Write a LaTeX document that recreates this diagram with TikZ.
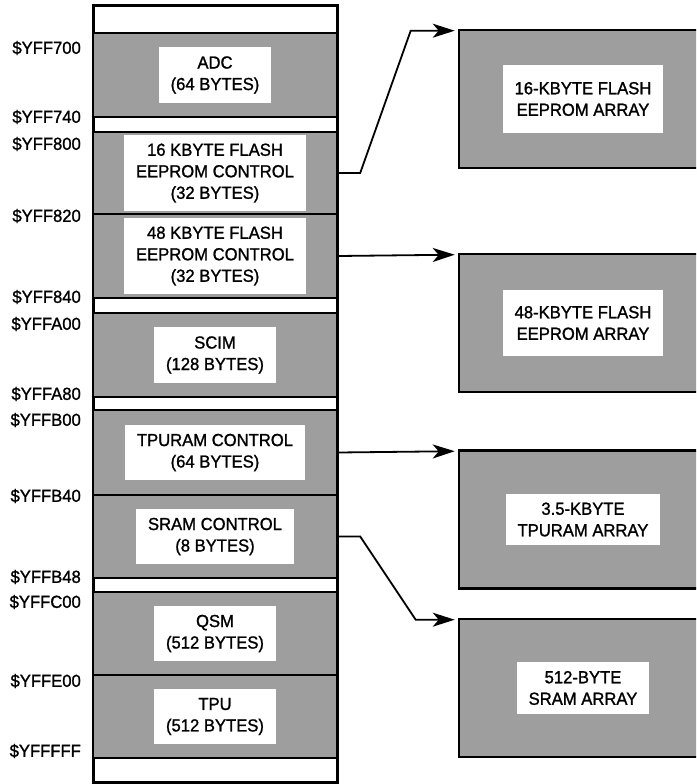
\documentclass[tikz,border=0pt]{standalone}
\usepackage{fontspec}
\setmainfont{Liberation Sans}[FakeStretch=0.95, FakeBold=1.2]
\usetikzlibrary{arrows.meta,positioning}

\begin{document}
\begin{tikzpicture}[
  x=1pt, y=-1pt,
  every node/.style={font=\fontsize{17.5}{21.5}\selectfont},
  memblock/.style={draw, line width=2.4pt, fill=black!38, minimum width=244pt, inner sep=0pt},
  arraybox/.style={draw, line width=2.6pt, fill=black!38, minimum width=248pt, minimum height=138pt, inner sep=0pt},
  tag/.style={fill=white, align=center, inner xsep=12pt, inner ysep=9pt},
  addr/.style={anchor=east, inner sep=0pt},
  arr/.style={line width=1.8pt, -{Stealth[length=22pt,width=14pt,inset=6pt]}}
]
\useasboundingbox (0,0) rectangle (696,784);
\clip (0,0) rectangle (696,784);

% memory map column
\node[draw, line width=3pt, fill=white, minimum width=244pt, minimum height=776pt] (column) at (215,394) {};
\node[memblock, minimum height=84pt] (adc) at (215,75) {};
\node[memblock, minimum height=82pt] (ctrlA) at (215,173) {};
\node[memblock, minimum height=84pt] (ctrlB) at (215,256) {};
\node[memblock, minimum height=84pt] (scim) at (215,355) {};
\node[memblock, minimum height=85pt] (tpuctrl) at (215,452.5) {};
\node[memblock, minimum height=83pt] (sramctrl) at (215,536.5) {};
\node[memblock, minimum height=83pt] (qsm) at (215,633.5) {};
\node[memblock, minimum height=83pt] (tpu) at (215,716.5) {};

\node[tag] (adctag) at (adc) {ADC\\(64 BYTES)};
\node[tag] (ctrlAtag) at (ctrlA) {16 KBYTE FLASH\\EEPROM CONTROL\\(32 BYTES)};
\node[tag] (ctrlBtag) at (ctrlB) {48 KBYTE FLASH\\EEPROM CONTROL\\(32 BYTES)};
\node[tag] (scimtag) at (scim) {SCIM\\(128 BYTES)};
\node[tag] (tpuctrltag) at (tpuctrl) {TPURAM CONTROL\\(64 BYTES)};
\node[tag] (sramctrltag) at (sramctrl) {SRAM CONTROL\\(8 BYTES)};
\node[tag] (qsmtag) at (qsm) {QSM\\(512 BYTES)};
\node[tag] (tputag) at (tpu) {TPU\\(512 BYTES)};

% addresses
\node[addr] (a700) at (81,48) {\$YFF700};
\node[addr] (a740) at (81,117) {\$YFF740};
\node[addr] (a800) at (81,144) {\$YFF800};
\node[addr] (a820) at (81,216) {\$YFF820};
\node[addr] (a840) at (81,297) {\$YFF840};
\node[addr] (aA00) at (81,324) {\$YFFA00};
\node[addr] (aA80) at (81,394) {\$YFFA80};
\node[addr] (aB00) at (81,420) {\$YFFB00};
\node[addr] (aB40) at (81,496) {\$YFFB40};
\node[addr] (aB48) at (81,577) {\$YFFB48};
\node[addr] (aC00) at (81,602) {\$YFFC00};
\node[addr] (aE00) at (81,681) {\$YFFE00};
\node[addr] (aFFF) at (81,751) {\$YFFFFF};

% arrays
\node[arraybox] (arrayA) at (583,99) {};
\node[arraybox] (arrayB) at (583,323) {};
\node[arraybox] (arrayC) at (583,519.5) {};
\node[arraybox] (arrayD) at (583,688) {};

\node[tag, inner ysep=17pt] (arrayAtag) at (arrayA) {16-KBYTE FLASH\\EEPROM ARRAY};
\node[tag, inner ysep=16pt] (arrayBtag) at (arrayB) {48-KBYTE FLASH\\EEPROM ARRAY};
\node[tag] (arrayCtag) at (arrayC) {3.5-KBYTE\\TPURAM ARRAY};
\node[tag] (arrayDtag) at (arrayD) {512-BYTE\\SRAM ARRAY};

\draw[arr] (ctrlA.east) -- ++(22,0) -- ([xshift=-47pt,yshift=-2pt]arrayA.north west) -- ([xshift=-3pt,yshift=-2pt]arrayA.north west);
\draw[arr] (ctrlB.east) -- ([xshift=-3pt,yshift=-2pt]arrayB.north west);
\draw[arr] (tpuctrl.east) -- ([xshift=-3pt,yshift=-2pt]arrayC.north west);
\draw[arr] (sramctrl.east) -- ++(22,0) -- ([xshift=-42pt,yshift=-2pt]arrayD.north west) -- ([xshift=-3pt,yshift=-2pt]arrayD.north west);
\end{tikzpicture}
\end{document}
